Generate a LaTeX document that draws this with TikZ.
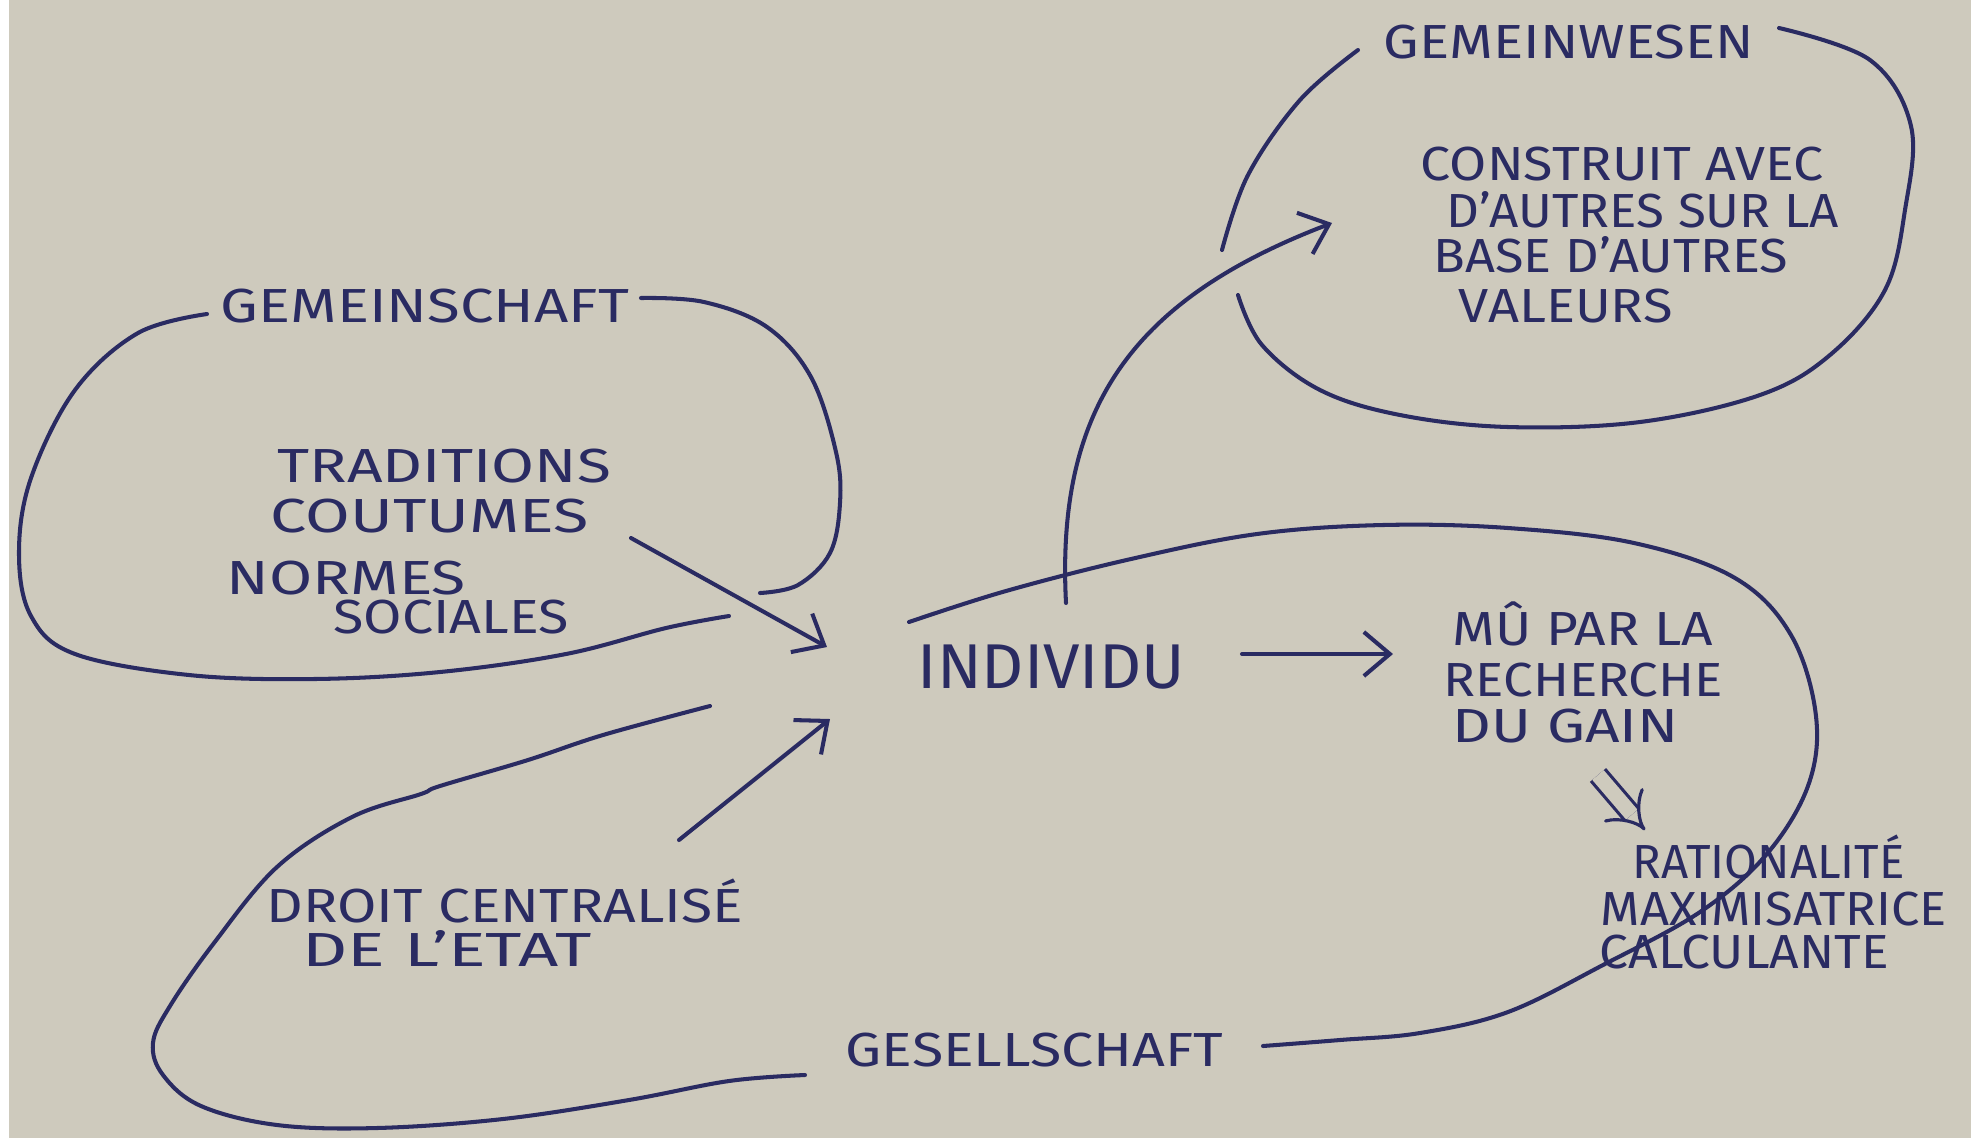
\documentclass[tikz,border=0pt]{standalone}
\usepackage{fontspec}
\setmainfont{Fira Sans}
\usetikzlibrary{arrows.meta}
\definecolor{paper}{RGB}{206,202,189}
\definecolor{ink}{RGB}{42,43,98}
\newcommand{\fw}[2]{\resizebox{#1}{\height}{#2}}
\tikzset{
 pen/.style={draw=ink, line width=1.15pt, line cap=round, line join=round},
 arr/.style={pen, -{Straight Barb[length=2.6mm,width=4.4mm,line width=1.15pt]}},
 dblarr/.style={draw=ink, line width=0.9pt, double=paper, double distance=1.5mm, -{Implies[length=2.6mm]}},
 txt/.style={inner sep=0pt, anchor=base west, text=ink, font=\fontsize{13.6}{16}\selectfont},
 big/.style={txt, font=\fontsize{18}{21}\selectfont},
}
\begin{document}
\begin{tikzpicture}[x=0.01cm,y=-0.01cm]
\fill[paper] (0,0) rectangle (1971,1138);
\fill[white] (0,0) rectangle (9,1138);
\useasboundingbox (0,0) rectangle (1971,1138);

% texts
\node[txt] (gw) at (1383,58) {\fw{3.70cm}{GEMEINWESEN}};
\node[txt] (c1) at (1420,180) {\fw{4.03cm}{CONSTRUIT AVEC}};
\node[txt] (c2) at (1446,227) {\fw{3.92cm}{D'AUTRES SUR LA}};
\node[txt] (c3) at (1433,272) {\fw{3.54cm}{BASE D'AUTRES}};
\node[txt] (c4) at (1458,322) {\fw{2.14cm}{VALEURS}};

\node[txt] (gs) at (220,322) {\fw{4.08cm}{GEMEINSCHAFT}};
\node[txt] (t1) at (277,482) {\fw{3.33cm}{TRADITIONS}};
\node[txt] (t2) at (270,532) {\fw{3.18cm}{COUTUMES}};
\node[txt] (t3) at (226,594) {\fw{2.39cm}{NORMES}};
\node[txt] (t4) at (333,633) {\fw{2.35cm}{SOCIALES}};

\node[big] (ind) at (917,688) {\fw{2.67cm}{INDIVIDU}};

\node[txt] (m1) at (1452,645) {\fw{2.60cm}{MÛ PAR LA}};
\node[txt] (m2) at (1443,696) {\fw{2.79cm}{RECHERCHE}};
\node[txt] (m3) at (1452,742) {\fw{2.26cm}{DU GAIN}};

\node[txt] (r1) at (1632,878) {\fw{2.72cm}{RATIONALITÉ}};
\node[txt] (r2) at (1600,925) {\fw{3.46cm}{MAXIMISATRICE}};
\node[txt] (r3) at (1599,968) {\fw{2.89cm}{CALCULANTE}};

\node[txt] (d1) at (266,922) {\fw{4.76cm}{DROIT CENTRALISÉ}};
\node[txt] (d2) at (302,966) {\fw{2.89cm}{DE L'ETAT}};

\node[txt] (ges) at (845,1066) {\fw{3.77cm}{GESELLSCHAFT}};

% loops
\draw[pen] plot[smooth, tension=0.6] coordinates {(1358,50) (1300,100) (1248,175) (1222,250)};
\draw[pen] plot[smooth, tension=0.6] coordinates {(1779,28) (1870,60) (1911,126) (1905,210) (1885,290) (1830,355) (1760,395) (1640,422) (1508,427) (1400,415) (1320,390) (1262,345) (1238,295)};

\draw[pen] plot[smooth, tension=0.6] coordinates {(207,314) (138,333) (75,390) (31,478) (19,553) (31,616) (75,654) (189,675) (314,679) (440,672) (566,654) (666,628) (729,616)};
\draw[pen] plot[smooth, tension=0.6] coordinates {(641,298) (704,302) (767,327) (811,377) (836,452) (840,503) (830,553) (798,585) (760,593)};

\draw[pen] plot[smooth, tension=0.6] coordinates {(909,622) (1006,591) (1131,559) (1257,534) (1383,525) (1508,528) (1634,543) (1735,578) (1791,635) (1816,716) (1808,786) (1766,855) (1700,912) (1603,965) (1508,1012) (1420,1033) (1340,1040) (1263,1046)};
\draw[pen] plot[smooth, tension=0.6] coordinates {(710,706) (603,735) (528,760) (440,786) (421,794) (352,817) (277,867) (214,943) (170,1006) (153,1043) (163,1075) (201,1106) (277,1125) (377,1128) (503,1119) (629,1100) (729,1081) (805,1075)};

% arrow end points
\coordinate (ta) at (631,538);
\coordinate (tb) at (827,647);
\coordinate (da) at (679,840);
\coordinate (db) at (830,719);
\coordinate (ia) at (1242,654);
\coordinate (ib) at (1393,654);
\coordinate (ua) at (1066,603);
\coordinate (ub) at (1332,223);
\coordinate (ra) at (1598,775);
\coordinate (rb) at (1645,830);

\draw[arr] (ta) -- (tb);
\draw[arr] (da) -- (db);
\draw[arr] (ia) -- (ib);
\draw[arr] (ua) .. controls (1056,410) and (1130,300) .. (ub);
\draw[dblarr] (ra) -- (rb);
\end{tikzpicture}
\end{document}
